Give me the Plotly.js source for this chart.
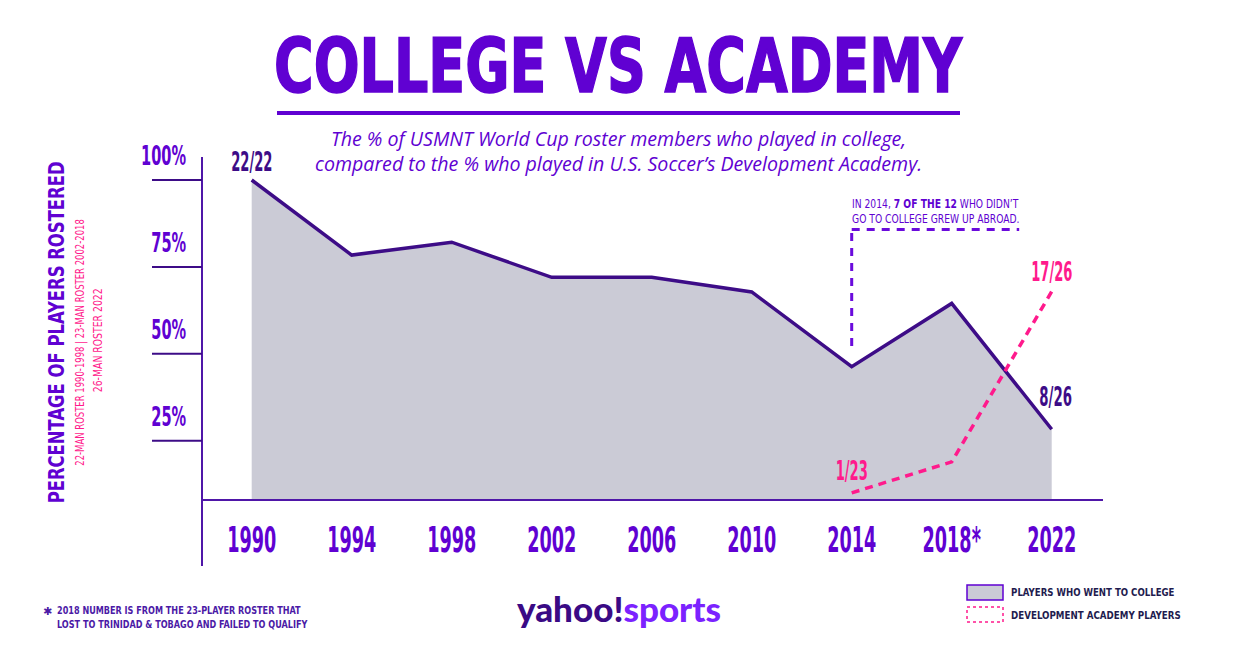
<!DOCTYPE html>
<html><head><meta charset="utf-8">
<script src="https://cdn.plot.ly/plotly-3.0.1.min.js"></script>
<style>html,body{margin:0;padding:0;background:#fff;} #chart{width:1237px;height:666px;}</style>
</head><body><div id="chart"></div>
<script>
// ---- data ----
const years = [1990, 1994, 1998, 2002, 2006, 2010, 2014, 2018, 2022];
const yearLabels = ['1990', '1994', '1998', '2002', '2006', '2010', '2014', '2018*', '2022'];
const collegePct = [100, 78.4, 82.1, 72.0, 72.0, 67.8, 46.3, 64.5, 28.3];
const academyYears = [2014, 2018, 2022];
const academyPct = [10.0, 18.9, 67.9];
const yTickVals = [25, 50, 75, 100];
const yTickText = ['25%', '50%', '75%', '100%'];
const collegeFirstLabel = '22/22';
const collegeLastLabel = '8/26';
const academyFirstLabel = '1/23';
const academyLastLabel = '17/26';

// ---- geometry helpers (plot area in pixels) ----
const L = 202, R = 1103, T = 150, B = 499, W = R - L, H = B - T;
const px = x => (x - L) / W;
const py = y => (B - y) / H;

const NARROW = '"Liberation Sans Narrow", "DejaVu Sans Condensed", "Arial Narrow", sans-serif';
const PURPLE = '#6001d2';
const DARK = '#3d0c87';
const PINK = '#ff1a8c';
const AXIS = '#4f16a8';

const traces = [
  {
    x: years, y: collegePct, type: 'scatter', mode: 'lines', fill: 'tozeroy',
    fillcolor: '#cbcbd6', line: {color: DARK, width: 3.5}, hoverinfo: 'x+y', name: 'Players who went to college'
  },
  {
    x: academyYears, y: academyPct, type: 'scatter', mode: 'lines',
    line: {color: PINK, width: 3.5, dash: '8px,6px'}, hoverinfo: 'x+y', name: 'Development Academy players'
  }
];

const annotations = [];
const squeeze = [];
function addAnn(a, s, pivot) { annotations.push(a); squeeze.push([s || 1, pivot || 'center']); }

// y tick labels
yTickVals.forEach((v, i) => addAnn({
  xref: 'paper', yref: 'y', x: px(188), y: v, xanchor: 'right', yanchor: 'bottom', yshift: 7,
  text: '<b>' + yTickText[i] + '</b>', showarrow: false, font: {family: NARROW, size: 27, color: PURPLE}
}, 0.6, 'right'));
// point labels
const nC = years.length - 1, nA = academyYears.length - 1;
addAnn({x: years[0], y: collegePct[0], text: '<b>' + collegeFirstLabel + '</b>', showarrow: false, xanchor: 'center', yanchor: 'bottom', yshift: 1,
  font: {family: NARROW, size: 26, color: DARK}}, 0.56);
addAnn({x: years[nC], y: collegePct[nC], text: '<b>' + collegeLastLabel + '</b>', showarrow: false, xanchor: 'center', yanchor: 'bottom', xshift: 4, yshift: 15,
  font: {family: NARROW, size: 26, color: DARK}}, 0.57);
addAnn({x: academyYears[0], y: academyPct[0], text: '<b>' + academyFirstLabel + '</b>', showarrow: false, xanchor: 'center', yanchor: 'bottom', yshift: 5,
  font: {family: NARROW, size: 26, color: PINK}}, 0.56);
addAnn({x: academyYears[nA], y: academyPct[nA], text: '<b>' + academyLastLabel + '</b>', showarrow: false, xanchor: 'center', yanchor: 'bottom', yshift: 3,
  font: {family: NARROW, size: 26, color: PINK}}, 0.56);
// subtitle
addAnn({xref: 'paper', yref: 'paper', x: px(618), y: py(151), xanchor: 'center', yanchor: 'middle', showarrow: false,
  text: 'The % of USMNT World Cup roster members who played in college,<br>compared to the % who played in U.S. Soccer\u2019s Development Academy.',
  font: {family: '"Open Sans", sans-serif', size: 19.6, color: PURPLE, style: 'italic'}});
// side titles
addAnn({xref: 'paper', yref: 'paper', x: px(57), y: py(333), xanchor: 'center', yanchor: 'middle', textangle: -90, showarrow: false,
  text: '<b>PERCENTAGE OF PLAYERS ROSTERED</b>', font: {family: NARROW, size: 21, color: PURPLE}}, 0.87);
addAnn({xref: 'paper', yref: 'paper', x: px(80), y: py(342), xanchor: 'center', yanchor: 'middle', textangle: -90, showarrow: false,
  text: '22-MAN ROSTER 1990-1998 | 23-MAN ROSTER 2002-2018', font: {family: NARROW, size: 11.5, color: PINK}}, 0.82);
addAnn({xref: 'paper', yref: 'paper', x: px(98), y: py(341), xanchor: 'center', yanchor: 'middle', textangle: -90, showarrow: false,
  text: '26-MAN ROSTER 2022', font: {family: NARROW, size: 11.5, color: PINK}}, 0.9);
// 2014 note
addAnn({xref: 'paper', yref: 'paper', x: px(850), y: py(211), xanchor: 'left', yanchor: 'middle', align: 'left', showarrow: false,
  text: 'IN 2014, <b>7 OF THE 12</b> WHO DIDN\u2019T<br>GO TO COLLEGE GREW UP ABROAD.',
  font: {family: NARROW, size: 11.5, color: PURPLE}}, 0.89, 'left');
// footnote
addAnn({xref: 'paper', yref: 'paper', x: px(41), y: py(611), xanchor: 'left', yanchor: 'middle', showarrow: false,
  text: '<b>\u2731</b>', font: {family: '"DejaVu Sans", sans-serif', size: 11, color: '#4b1aa6'}});
addAnn({xref: 'paper', yref: 'paper', x: px(55), y: py(617), xanchor: 'left', yanchor: 'middle', align: 'left', showarrow: false,
  text: '<b>2018 NUMBER IS FROM THE 23-PLAYER ROSTER THAT<br>LOST TO TRINIDAD &amp; TOBAGO AND FAILED TO QUALIFY</b>',
  font: {family: NARROW, size: 11, color: '#4b1aa6'}}, 0.82, 'left');
// logo
addAnn({xref: 'paper', yref: 'paper', x: px(619), y: py(608), xanchor: 'center', yanchor: 'middle', showarrow: false,
  text: '<span style="color:#3a0a85">yahoo!</span><span style="color:#7b22ff">sports</span>',
  font: {family: 'Lato, sans-serif', size: 35, weight: 900}});
// legend text
addAnn({xref: 'paper', yref: 'paper', x: px(1009), y: py(592), xanchor: 'left', yanchor: 'middle', showarrow: false,
  text: '<b>PLAYERS WHO WENT TO COLLEGE</b>', font: {family: NARROW, size: 11, color: '#1f1c4f'}}, 0.87, 'left');
addAnn({xref: 'paper', yref: 'paper', x: px(1009), y: py(615), xanchor: 'left', yanchor: 'middle', showarrow: false,
  text: '<b>DEVELOPMENT ACADEMY PLAYERS</b>', font: {family: NARROW, size: 11, color: '#1f1c4f'}}, 0.88, 'left');

const shapes = [];
// y axis line (extends beyond plot area)
shapes.push({type: 'line', xref: 'paper', yref: 'paper', x0: 0, x1: 0, y0: py(566), y1: py(157), line: {color: AXIS, width: 2}});
// tick lines
yTickVals.forEach(v => shapes.push({type: 'line', xref: 'paper', yref: 'y', x0: px(152), x1: 0, y0: v, y1: v, line: {color: '#3d0c87', width: 2}}));
// title underline
shapes.push({type: 'line', xref: 'paper', yref: 'paper', x0: px(277), x1: px(960), y0: py(113), y1: py(113), line: {color: PURPLE, width: 4}});
// 2014 note dashed callout
shapes.push({type: 'line', xref: 'x', yref: 'paper', x0: academyYears[0], x1: academyYears[0], y0: py(346), y1: py(229.5), line: {color: '#6a0bdc', width: 3, dash: '8px,7px'}});
shapes.push({type: 'line', xref: 'x', yref: 'paper', x0: academyYears[0], x1: 2020.7, y0: py(229.5), y1: py(229.5), line: {color: '#6a0bdc', width: 3, dash: '8px,7px'}});
// legend swatches
shapes.push({type: 'rect', xref: 'paper', yref: 'paper', x0: px(967), x1: px(1003), y0: py(600), y1: py(585), fillcolor: '#cbcbd6', line: {color: '#6001d2', width: 1.5}});
shapes.push({type: 'rect', xref: 'paper', yref: 'paper', x0: px(967), x1: px(1003), y0: py(622), y1: py(607), fillcolor: 'rgba(0,0,0,0)', line: {color: PINK, width: 1.5, dash: 'dot'}});

const layout = {
  width: 1237, height: 666,
  margin: {l: L, r: 1237 - R, t: T, b: 666 - B, pad: 0},
  paper_bgcolor: '#ffffff', plot_bgcolor: '#ffffff',
  showlegend: false,
  title: {text: '<b>COLLEGE VS ACADEMY</b>', xref: 'container', yref: 'container', x: 618 / 1237, y: 1 - 66 / 666,
    xanchor: 'center', yanchor: 'middle', font: {family: NARROW, size: 75, color: PURPLE}},
  xaxis: {
    range: [1990 - (251.7 - L) / 25, 1990 + (R - 251.7) / 25],
    tickvals: years, ticktext: yearLabels, showgrid: false, zeroline: false,
    showline: true, linecolor: AXIS, linewidth: 2,
    ticks: 'outside', ticklen: 9, tickcolor: 'rgba(0,0,0,0)',
    tickfont: {family: NARROW, size: 35, color: PURPLE, weight: 'bold'}
  },
  yaxis: {
    range: [(527.6 - B) / 3.476, (527.6 - T) / 3.476],
    showgrid: false, zeroline: false, showline: false, showticklabels: false, ticks: ''
  },
  annotations: annotations,
  shapes: shapes
};

// horizontally condense a text element (fonts available are wider than the original display face)
function condense(el, s, pivot) {
  if (!el || s === 1) return;
  const bb = el.getBBox();
  const cx = pivot === 'left' ? bb.x : pivot === 'right' ? bb.x + bb.width : bb.x + bb.width / 2;
  const t = el.getAttribute('transform') || '';
  el.setAttribute('transform', t + ' translate(' + cx + ',0) scale(' + s + ',1) translate(' + (-cx) + ',0)');
}

Plotly.newPlot('chart', traces, layout, {displayModeBar: false, staticPlot: true}).then(gd => {
  const title = gd.querySelector('.g-gtitle text.gtitle');
  condense(title, 0.80, 'center');
  if (title) { title.style.stroke = PURPLE; title.style.strokeWidth = '1.5px'; }
  gd.querySelectorAll('.xtick text').forEach(t => condense(t, 0.56, 'center'));
  gd.querySelectorAll('g.annotation').forEach(g => {
    const i = +g.getAttribute('data-index');
    const sq = squeeze[i];
    if (sq) condense(g.querySelector('text.annotation-text'), sq[0], sq[1]);
  });
});
</script>
</body></html>
